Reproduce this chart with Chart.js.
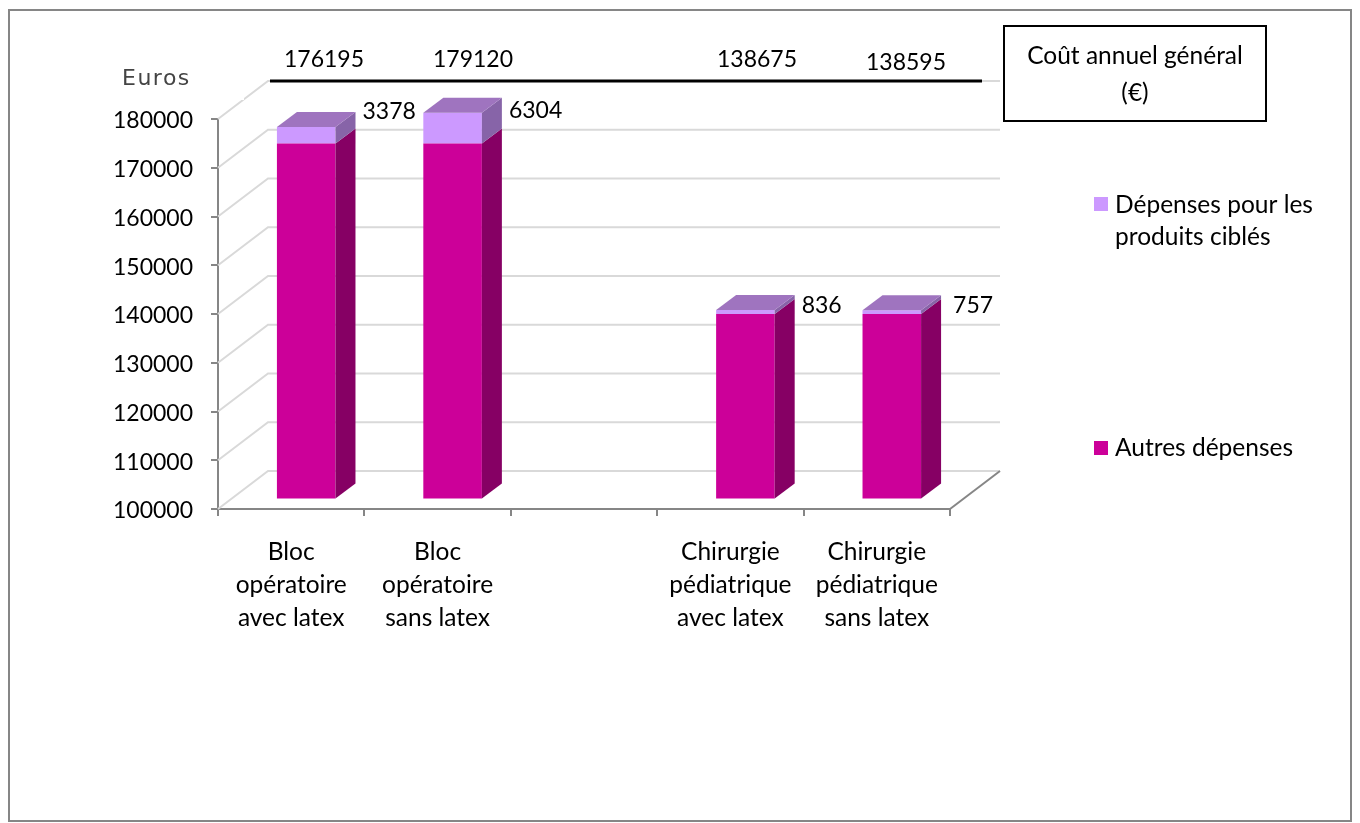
<!DOCTYPE html>
<html>
<head>
<meta charset="utf-8">
<title>Coût annuel</title>
<script src="https://cdn.jsdelivr.net/npm/chart.js@4/dist/chart.umd.min.js"></script>
<style>
  html, body { margin: 0; padding: 0; background: #fff; }
  canvas { display: block; }
</style>
</head>
<body>
<canvas id="myChart" width="1360" height="823"></canvas>
<script>
const categories = [
  ["Bloc", "opératoire", "avec latex"],
  ["Bloc", "opératoire", "sans latex"],
  "",
  ["Chirurgie", "pédiatrique", "avec latex"],
  ["Chirurgie", "pédiatrique", "sans latex"],
];
const autresDepenses = [172817, 172816, null, 137839, 137838];
const produitsCibles = [3378, 6304, null, 836, 757];
const coutTotal = [176195, 179120, null, 138675, 138595];

const FONT = "Lato, Carlito, sans-serif";
const TEXT_SIZE = 24.5;
const NUM_SIZE = 23;
const MAGENTA = ["#CC0099", "#860064", "#860064"];
const LILAC = ["#CC99FF", "#8764A8", "#9F74BF"];

// depth of the fake 3D: wall behind the plot, and the bars
const WALL = { x: 50, y: -38 };
const BAR_SHIFT = { x: 15, y: -10.5 };
const BAR_DEPTH = { x: 20, y: -15 };

// hand placed labels, offset from each bar's top right corner
const partOffset = [[7, -15], [7, -2], null, [7, -4], [12, -5]];
const totalX = [324, 473, null, 757, 906];
const totalY = [60, 60, null, 60, 63];

function text(ctx, str, x, y, align, size) {
  ctx.font = (size || TEXT_SIZE) + "px " + FONT;
  ctx.fillStyle = "#000";
  ctx.textAlign = align || "left";
  ctx.textBaseline = "middle";
  ctx.fillText(str, x, y);
}

function poly(ctx, pts, color) {
  ctx.fillStyle = color;
  ctx.beginPath();
  pts.forEach((p, i) => (i ? ctx.lineTo(p[0], p[1]) : ctx.moveTo(p[0], p[1])));
  ctx.closePath();
  ctx.fill();
}

const look3d = {
  id: "look3d",
  beforeDatasetsDraw(chart) {
    const { ctx, chartArea: a, scales } = chart;
    ctx.save();
    ctx.strokeStyle = "#D9D9D9";
    ctx.lineWidth = 2;
    scales.y.ticks.forEach((t) => {
      const y = scales.y.getPixelForValue(t.value);
      ctx.beginPath();
      ctx.moveTo(a.left, y);
      ctx.lineTo(a.left + WALL.x, y + WALL.y);
      ctx.lineTo(a.right + WALL.x, y + WALL.y);
      ctx.stroke();
    });
    // floor edge on the right
    ctx.strokeStyle = "#868686";
    ctx.beginPath();
    ctx.moveTo(a.right, a.bottom);
    ctx.lineTo(a.right + WALL.x, a.bottom + WALL.y);
    ctx.stroke();
    ctx.restore();
    // the real bars are drawn by the library in this shifted plane
    ctx.save();
    ctx.translate(BAR_SHIFT.x, BAR_SHIFT.y);
  },
  afterDatasetsDraw(chart) {
    const { ctx, chartArea: a } = chart;
    const dx = BAR_DEPTH.x, dy = BAR_DEPTH.y;
    const low = chart.getDatasetMeta(0).data;
    const up = chart.getDatasetMeta(1).data;
    low.forEach((b, i) => {
      if (autresDepenses[i] === null) return;
      const l = b.x - b.width / 2, r = b.x + b.width / 2;
      const bottom = Math.min(b.base, a.bottom);
      const t = up[i].y;
      poly(ctx, [[r, bottom], [r + dx, bottom + dy], [r + dx, b.y + dy], [r, b.y]], MAGENTA[1]);
      poly(ctx, [[r, b.y], [r + dx, b.y + dy], [r + dx, t + dy], [r, t]], LILAC[1]);
      poly(ctx, [[l, t], [r, t], [r + dx, t + dy], [l + dx, t + dy]], LILAC[2]);
    });
    ctx.restore();
  },
  afterDraw(chart) {
    const { ctx, scales } = chart;
    const up = chart.getDatasetMeta(1).data;

    // line over the top of the wall, with the totals
    const topY = scales.y.getPixelForValue(180000) + WALL.y;
    ctx.fillStyle = "#000";
    ctx.fillRect(270, topY - 1.5, 712, 3);
    coutTotal.forEach((v, i) => {
      if (v === null) return;
      text(ctx, String(v), totalX[i], totalY[i], "center", NUM_SIZE);
    });

    // share of the targeted products, next to each bar
    up.forEach((b, i) => {
      if (produitsCibles[i] === null) return;
      const x = b.x + b.width / 2 + BAR_SHIFT.x + BAR_DEPTH.x + partOffset[i][0];
      const y = b.y + BAR_SHIFT.y + partOffset[i][1];
      text(ctx, String(produitsCibles[i]), x, y, "left", NUM_SIZE);
    });

    // axis name sits in its own white box, it bites into the top diagonal
    ctx.fillStyle = "#fff";
    ctx.fillRect(118, 60, 126, 40);
    ctx.save();
    ctx.font = "22px 'DejaVu Sans', sans-serif";
    ctx.letterSpacing = "1.5px";
    ctx.fillStyle = "#444";
    ctx.textAlign = "left";
    ctx.textBaseline = "middle";
    ctx.fillText("Euros", 122, 79);
    ctx.restore();

    // title box
    ctx.fillStyle = "#fff";
    ctx.fillRect(1004, 26, 262, 95);
    ctx.strokeStyle = "#000";
    ctx.lineWidth = 2;
    ctx.strokeRect(1004, 26, 262, 95);
    text(ctx, "Coût annuel général", 1135, 56, "center");
    text(ctx, "(€)", 1135, 93, "center");

    // legend
    ctx.fillStyle = LILAC[0];
    ctx.fillRect(1094, 197, 14, 14);
    text(ctx, "Dépenses pour les", 1115, 205);
    text(ctx, "produits ciblés", 1115, 237);
    ctx.fillStyle = MAGENTA[0];
    ctx.fillRect(1094, 441, 14, 14);
    text(ctx, "Autres dépenses", 1115, 448);

    // outer frame
    ctx.strokeStyle = "#868686";
    ctx.lineWidth = 2;
    ctx.strokeRect(9, 10, 1342, 811);
  },
};

new Chart("myChart", {
  type: "bar",
  data: {
    labels: categories,
    datasets: [
      { label: "Autres dépenses", data: autresDepenses, backgroundColor: MAGENTA[0] },
      { label: "Dépenses pour les produits ciblés", data: produitsCibles, backgroundColor: LILAC[0] },
    ],
  },
  options: {
    responsive: false,
    animation: false,
    layout: { padding: { top: 119, right: 410, left: 0, bottom: 0 } },
    barPercentage: 0.4,
    categoryPercentage: 1,
    plugins: {
      legend: { display: false },
      tooltip: { enabled: false },
    },
    scales: {
      x: {
        stacked: true,
        afterFit(s) { s.height = 314; },
        grid: { drawOnChartArea: false, color: "#868686", lineWidth: 2, tickLength: 7, offset: true },
        border: { color: "#868686", width: 2 },
        ticks: {
          color: "#000",
          autoSkip: false,
          maxRotation: 0,
          padding: 20,
          font: { family: FONT, size: TEXT_SIZE, lineHeight: 1.34 },
        },
      },
      y: {
        stacked: true,
        min: 100000,
        max: 180000,
        afterFit(s) { s.width = 218; },
        grid: { drawOnChartArea: false, color: "#868686", lineWidth: 2, tickLength: 7 },
        border: { color: "#868686", width: 2 },
        ticks: {
          stepSize: 10000,
          color: "#000",
          padding: 18,
          labelOffset: 2,
          font: { family: FONT, size: NUM_SIZE },
          callback: (v) => String(v),
        },
      },
    },
  },
  plugins: [look3d],
});
</script>
</body>
</html>
